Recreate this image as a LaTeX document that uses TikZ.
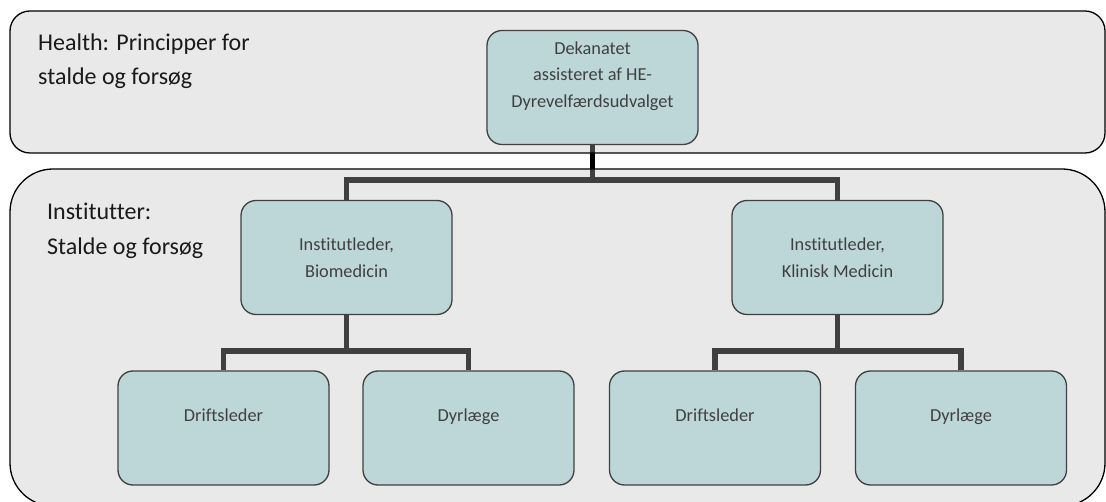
\documentclass[tikz,border=0pt]{standalone}
\usepackage{fontspec}
\setmainfont{Carlito}[Ligatures=NoCommon]
\usetikzlibrary{positioning}
\pgfdeclarelayer{back}
\pgfsetlayers{back,main}
\definecolor{unitfill}{RGB}{189,215,216}
\definecolor{unitline}{RGB}{64,64,64}
\definecolor{panelfill}{RGB}{190,190,190}
\definecolor{titletext}{RGB}{26,26,26}

\begin{document}
\begin{tikzpicture}[
    x=1pt,y=-1pt,
    panel/.style={draw=black,line width=1.3pt,fill=panelfill,fill opacity=0.337},
    unit/.style={draw=unitline,fill=unitfill,line width=1.3pt,rounded corners=15pt,
      minimum width=211pt,minimum height=114pt,inner sep=0pt,align=center,
      text=unitline,font=\fontsize{18.3}{26.5}\selectfont},
    link/.style={line width=5.5pt,black},
    title/.style={anchor=north west,inner sep=0pt,align=left,text=titletext,
      font=\fontsize{24}{34.5}\selectfont}
    ]

    \useasboundingbox (0,0) rectangle (1106,502);
    \clip (0,0) rectangle (1106,502);

    % panels:
    \draw [panel,rounded corners=20pt] (10,11) rectangle (1105,153);
    \draw [panel,rounded corners=43pt] (10,169) rectangle (1105,506);

    \node (hlth) at (38,33.5) [title] {Health: Principper for\\stalde og forsøg};
    \node (inst) at (47,203) [title] {Institutter:\\Stalde og forsøg};

    % top and institutes:
    \node (dek) at (592.5,87.5) [unit] {Dekanatet\\assisteret af HE-\\Dyrevelfærdsudvalget\\\mbox{}};
    \node (bio) at (346.5,257.5) [unit] {Institutleder,\\Biomedicin};
    \node (kli) at (837.5,257.5) [unit] {Institutleder,\\Klinisk Medicin};

    % staff:
    \node (dbio) at (223.5,428) [unit] {Driftsleder\\\mbox{}};
    \node (vbio) at (468.5,428) [unit] {Dyrlæge\\\mbox{}};
    \node (dkli) at (715,428) [unit] {Driftsleder\\\mbox{}};
    \node (vkli) at (961,428) [unit] {Dyrlæge\\\mbox{}};

    \begin{pgfonlayer}{back}
      \fill [white] (0,0) rectangle (1106,502);

      \draw [link] (dek.south) -- ++(0,35) -| (bio.north);
      \draw [link] (dek.south) -- ++(0,35) -| (kli.north);

      \foreach \u in {bio,kli} {
        \draw [link] (\u.south) -- ++(0,36) -| (d\u.north);
        \draw [link] (\u.south) -- ++(0,36) -| (v\u.north);
      }
    \end{pgfonlayer}

  \end{tikzpicture}
\end{document}
